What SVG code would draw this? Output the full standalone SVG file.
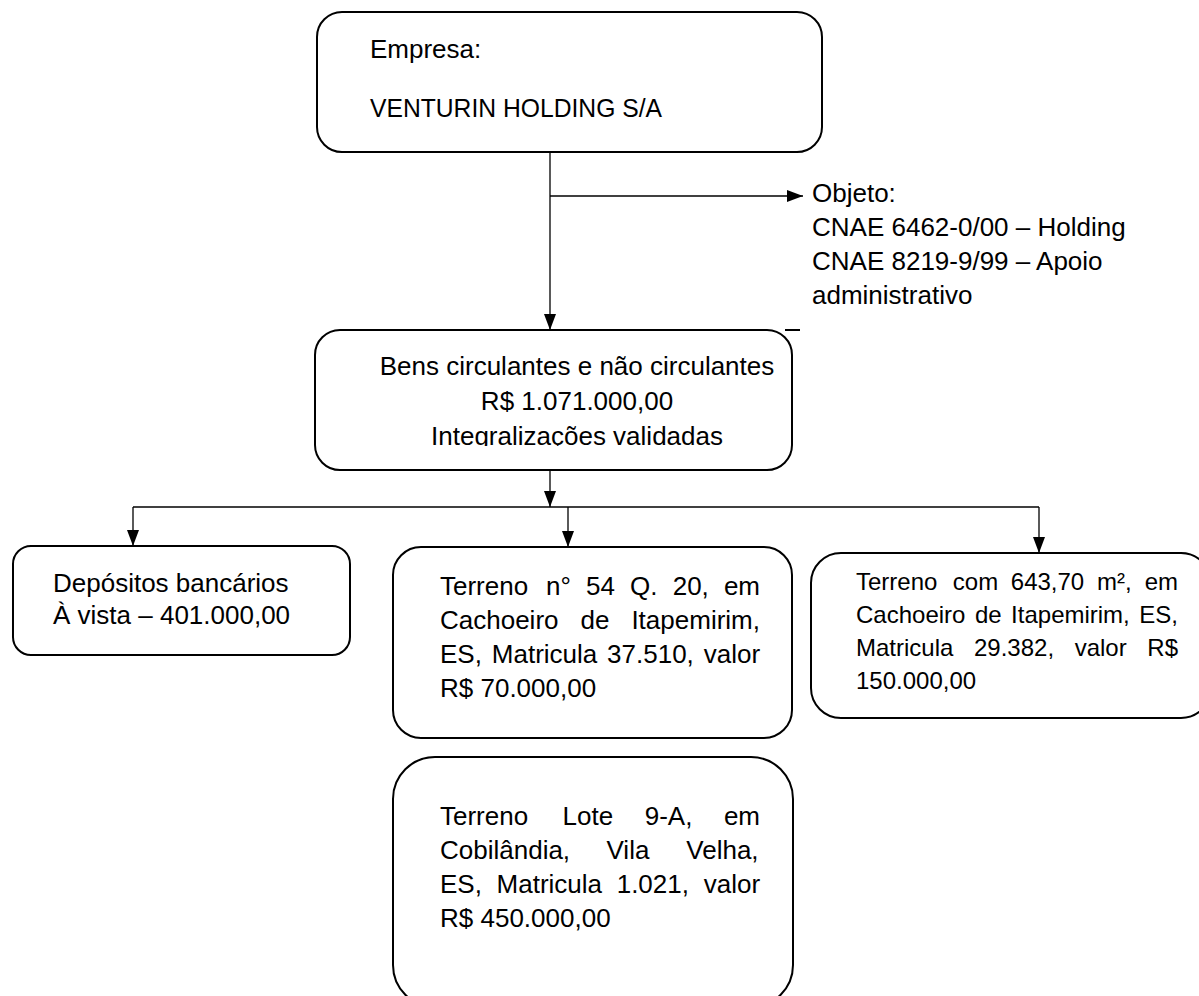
<svg xmlns="http://www.w3.org/2000/svg" width="1199" height="996" viewBox="0 0 1199 996">
<style>
.box{fill:#fff;stroke:#000;stroke-width:2}
.t{font-family:"Liberation Sans",Arial,sans-serif;font-size:26px;fill:#000}
.s{font-size:24px}
.conn{stroke:#000;stroke-width:1.3;fill:none}
</style>
<defs>
<marker id="ah" viewBox="0 0 16 12" refX="16" refY="6" markerWidth="16" markerHeight="12" markerUnits="userSpaceOnUse" orient="auto">
<path d="M0,0 L16,6 L0,12 z" fill="#000"/>
</marker>
<clipPath id="clipMid"><rect x="300" y="320" width="510" height="126"/></clipPath>
</defs>
<rect width="1199" height="996" fill="#fff"/>

<g id="connectors">
<path class="conn" d="M550,152 V330" marker-end="url(#ah)"/>
<path class="conn" d="M550,196 H803" marker-end="url(#ah)"/>
<path class="conn" d="M550,470 V507" marker-end="url(#ah)"/>
<path class="conn" d="M133,507 H1039"/>
<path class="conn" d="M133,507 V546" marker-end="url(#ah)"/>
<path class="conn" d="M568,507 V547" marker-end="url(#ah)"/>
<path class="conn" d="M1039,507 V553" marker-end="url(#ah)"/>
</g>

<g id="empresa">
<rect class="box" x="317" y="12" width="505" height="140" rx="25"/>
<text class="t" x="370" y="58">Empresa:</text>
<text class="t" x="370" y="117" textLength="292" lengthAdjust="spacingAndGlyphs">VENTURIN HOLDING S/A</text>
</g>

<g id="objeto">
<text class="t" x="812" y="202">Objeto:</text>
<text class="t" x="812" y="236">CNAE 6462-0/00 – Holding</text>
<text class="t" x="812" y="270">CNAE 8219-9/99 – Apoio</text>
<text class="t" x="812" y="304">administrativo</text>
</g>

<g id="bens">
<rect class="box" x="315" y="330" width="477" height="140" rx="25"/>
<line x1="785" y1="330" x2="800" y2="330" stroke="#000" stroke-width="2"/>
<text class="t" x="577" y="375" text-anchor="middle">Bens circulantes e não circulantes</text>
<text class="t" x="577" y="410" text-anchor="middle">R$ 1.071.000,00</text>
<text class="t" x="577" y="445" text-anchor="middle" clip-path="url(#clipMid)">Integralizações validadas</text>
</g>

<g id="depositos">
<rect class="box" x="13" y="546" width="337" height="109" rx="18"/>
<text class="t" x="53" y="592">Depósitos bancários</text>
<text class="t" x="53" y="624">À vista – 401.000,00</text>
</g>

<g id="terreno54">
<rect class="box" x="393" y="547" width="399" height="191" rx="28"/>
<text class="t" y="595"><tspan x="440">Terreno</tspan><tspan x="546.1">n°</tspan><tspan x="586.1">54</tspan><tspan x="630.1">Q.</tspan><tspan x="672.7">20,</tspan><tspan x="723.9">em</tspan></text>
<text class="t" y="629"><tspan x="440">Cachoeiro</tspan><tspan x="580.5">de</tspan><tspan x="631.4">Itapemirim,</tspan></text>
<text class="t" y="663"><tspan x="440">ES,</tspan><tspan x="491.8">Matricula</tspan><tspan x="607.1">37.510,</tspan><tspan x="703.7">valor</tspan></text>
<text class="t" x="440" y="697">R$ 70.000,00</text>
</g>

<g id="terreno643">
<rect class="box" x="811" y="553" width="400" height="165" rx="30"/>
<text class="t s" y="590"><tspan x="856">Terreno</tspan><tspan x="952.8">com</tspan><tspan x="1010.8">643,70</tspan><tspan x="1096.9">m²,</tspan><tspan x="1144.7">em</tspan></text>
<text class="t s" y="623"><tspan x="856">Cachoeiro</tspan><tspan x="974.9">de</tspan><tspan x="1011.1">Itapemirim,</tspan><tspan x="1139.3">ES,</tspan></text>
<text class="t s" y="656"><tspan x="856">Matricula</tspan><tspan x="974">29.382,</tspan><tspan x="1074.7">valor</tspan><tspan x="1147.3">R$</tspan></text>
<text class="t s" x="856" y="689">150.000,00</text>
</g>

<g id="terreno9a">
<rect class="box" x="393" y="757" width="400" height="250" rx="42"/>
<text class="t" y="825"><tspan x="440">Terreno</tspan><tspan x="562.6">Lote</tspan><tspan x="644.7">9-A,</tspan><tspan x="723.9">em</tspan></text>
<text class="t" y="859"><tspan x="440">Cobilândia,</tspan><tspan x="606.5">Vila</tspan><tspan x="686.3">Velha,</tspan></text>
<text class="t" y="893"><tspan x="440">ES,</tspan><tspan x="496.6">Matricula</tspan><tspan x="616.7">1.021,</tspan><tspan x="703.7">valor</tspan></text>
<text class="t" x="440" y="927">R$ 450.000,00</text>
</g>
</svg>
